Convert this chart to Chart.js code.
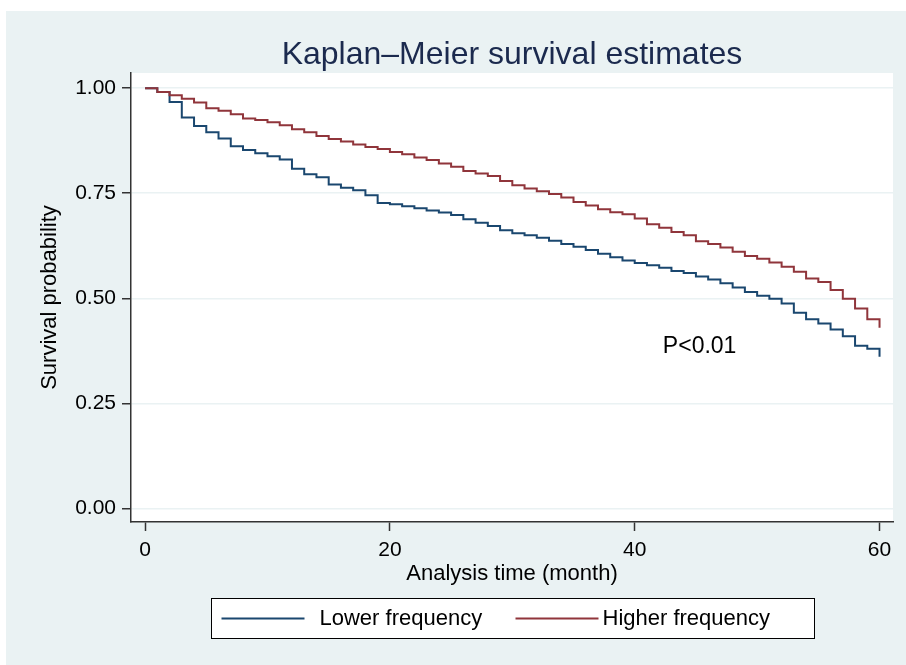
<!DOCTYPE html>
<html>
<head>
<meta charset="utf-8">
<title>Kaplan-Meier</title>
<script src="https://cdn.jsdelivr.net/npm/chart.js@4.4.1/dist/chart.umd.min.js"></script>
<style>
    html, body { margin: 0; padding: 0; background: #ffffff; }
    #wrap { width: 906px; height: 665px; position: relative; }
</style>
</head>
<body>
<div id="wrap"><canvas id="kmChart"></canvas></div>
<script>
// Tempo (meses) e sobrevida estimada para cada grupo
const months = [
    0, 1, 2, 3, 4, 5, 6, 7, 8, 9, 10, 11, 12, 13, 14, 15, 16, 17, 18, 19, 20,
    21, 22, 23, 24, 25, 26, 27, 28, 29, 30, 31, 32, 33, 34, 35, 36, 37, 38, 39, 40,
    41, 42, 43, 44, 45, 46, 47, 48, 49, 50, 51, 52, 53, 54, 55, 56, 57, 58, 59, 60
];
const lowerFreq = [
    1.000, 0.991, 0.967, 0.930, 0.910, 0.895, 0.880, 0.862, 0.853, 0.845, 0.838,
    0.830, 0.808, 0.795, 0.788, 0.771, 0.763, 0.757, 0.745, 0.727, 0.724,
    0.719, 0.714, 0.709, 0.704, 0.698, 0.688, 0.680, 0.672, 0.662, 0.655,
    0.650, 0.644, 0.637, 0.629, 0.623, 0.615, 0.606, 0.598, 0.590, 0.584,
    0.579, 0.573, 0.565, 0.560, 0.552, 0.545, 0.536, 0.526, 0.515, 0.506,
    0.499, 0.488, 0.466, 0.450, 0.440, 0.426, 0.410, 0.387, 0.380, 0.361
];
const higherFreq = [
    1.000, 0.991, 0.983, 0.975, 0.966, 0.952, 0.946, 0.938, 0.928, 0.924, 0.919,
    0.912, 0.902, 0.895, 0.886, 0.879, 0.873, 0.866, 0.860, 0.855, 0.848,
    0.843, 0.835, 0.829, 0.821, 0.813, 0.803, 0.797, 0.791, 0.779, 0.769,
    0.761, 0.755, 0.748, 0.740, 0.729, 0.721, 0.712, 0.705, 0.700, 0.690,
    0.676, 0.668, 0.658, 0.650, 0.636, 0.629, 0.621, 0.611, 0.601, 0.594,
    0.585, 0.575, 0.563, 0.547, 0.539, 0.520, 0.499, 0.476, 0.450, 0.430
];
const seriesNames = ['Lower frequency', 'Higher frequency'];
const xTicks = [0, 20, 40, 60];
const yTicks = [0, 0.25, 0.5, 0.75, 1];
const chartTitle = 'Kaplan\u2013Meier survival estimates';
const pLabel = 'P<0.01';
const pLabelPos = [42.3, 0.386]; // canto esquerdo do texto, em unidades de dados

const FONT = "Arial, 'Liberation Sans', Helvetica, sans-serif";
const BLUE = '#1a476f';
const RED = '#90353b';
const PANEL = '#eaf2f3';

function toPoints(values) {
    return values.map((v, i) => ({ x: months[i], y: v }));
}

// Fundo estilo Stata: painel azul-claro e area do grafico branca
const backgroundPlugin = {
    id: 'stataBackground',
    beforeDraw(chart) {
        const { ctx, chartArea, width, height } = chart;
        ctx.save();
        ctx.fillStyle = '#ffffff';
        ctx.fillRect(0, 0, width, height);
        ctx.fillStyle = PANEL;
        ctx.fillRect(6, 11, width - 6, height - 11);
        ctx.fillStyle = '#ffffff';
        ctx.fillRect(chartArea.left, chartArea.top, chartArea.right - chartArea.left, chartArea.bottom - chartArea.top);
        ctx.restore();
    }
};

// Titulo centrado na area do grafico, legenda em caixa e anotacao do p-valor
const extrasPlugin = {
    id: 'stataExtras',
    afterDraw(chart) {
        const { ctx, chartArea, scales } = chart;
        const centerX = (chartArea.left + chartArea.right) / 2;
        ctx.save();

        // titulo
        ctx.fillStyle = '#1b2a4e';
        ctx.font = '32px ' + FONT;
        ctx.textAlign = 'center';
        ctx.textBaseline = 'middle';
        ctx.fillText(chartTitle, centerX, 55);

        // p-valor
        ctx.fillStyle = '#000000';
        ctx.font = '23px ' + FONT;
        ctx.textAlign = 'left';
        ctx.fillText(pLabel, scales.x.getPixelForValue(pLabelPos[0]), scales.y.getPixelForValue(pLabelPos[1]));

        // legenda
        const boxW = 603, boxH = 40;
        const boxX = Math.round(centerX - boxW / 2) + 0.5;
        const boxY = 598.5;
        ctx.fillStyle = '#ffffff';
        ctx.fillRect(boxX, boxY, boxW, boxH);
        ctx.strokeStyle = '#000000';
        ctx.lineWidth = 1;
        ctx.strokeRect(boxX, boxY, boxW, boxH);

        const midY = boxY + boxH / 2;
        const items = [
            { color: BLUE, x0: 10, x1: 93, tx: 108, name: seriesNames[0] },
            { color: RED, x0: 304, x1: 387, tx: 391, name: seriesNames[1] }
        ];
        ctx.font = '22px ' + FONT;
        items.forEach(it => {
            ctx.strokeStyle = it.color;
            ctx.lineWidth = 2;
            ctx.beginPath();
            ctx.moveTo(boxX + it.x0, midY);
            ctx.lineTo(boxX + it.x1, midY);
            ctx.stroke();
            ctx.fillStyle = '#000000';
            ctx.fillText(it.name, boxX + it.tx, midY);
        });
        ctx.restore();
    }
};

const ctx = document.getElementById('kmChart').getContext('2d');
new Chart(ctx, {
    type: 'line',
    data: {
        datasets: [
            {
                label: seriesNames[1],
                data: toPoints(higherFreq),
                borderColor: RED,
                borderWidth: 2,
                pointRadius: 0,
                stepped: 'before',
                fill: false
            },
            {
                label: seriesNames[0],
                data: toPoints(lowerFreq),
                borderColor: BLUE,
                borderWidth: 2,
                pointRadius: 0,
                stepped: 'before',
                fill: false
            }
        ]
    },
    options: {
        responsive: true,
        maintainAspectRatio: false,
        animation: false,
        layout: { padding: { left: 0, right: 13, top: 73, bottom: 78 } },
        plugins: {
            legend: { display: false },
            tooltip: { enabled: false },
            title: { display: false }
        },
        scales: {
            x: {
                type: 'linear',
                min: -1.15,
                max: 61.1,
                afterBuildTicks: axis => { axis.ticks = xTicks.map(v => ({ value: v })); },
                afterFit: axis => { axis.height = 65; },
                ticks: {
                    color: '#000000',
                    font: { family: FONT, size: 21 },
                    padding: 7,
                    maxRotation: 0,
                    callback: v => String(v)
                },
                grid: {
                    display: true,
                    drawOnChartArea: false,
                    drawTicks: true,
                    tickLength: 9,
                    tickColor: '#333333',
                    tickWidth: 1.5
                },
                border: { display: true, color: '#333333', width: 1.5 },
                title: {
                    display: true,
                    text: 'Analysis time (month)',
                    color: '#000000',
                    font: { family: FONT, size: 22 },
                    padding: { top: 0, bottom: 0 }
                }
            },
            y: {
                type: 'linear',
                min: -0.032,
                max: 1.036,
                afterBuildTicks: axis => { axis.ticks = yTicks.map(v => ({ value: v })); },
                afterFit: axis => { axis.width = 131; },
                ticks: {
                    color: '#000000',
                    font: { family: FONT, size: 21 },
                    padding: 6,
                    callback: v => Number(v).toFixed(2)
                },
                grid: {
                    display: true,
                    drawOnChartArea: true,
                    color: PANEL,
                    lineWidth: 1.5,
                    drawTicks: true,
                    tickLength: 9,
                    tickColor: '#333333',
                    tickWidth: 1.5
                },
                border: { display: true, color: '#333333', width: 1.5 },
                title: {
                    display: true,
                    text: 'Survival probability',
                    color: '#000000',
                    font: { family: FONT, size: 22 },
                    padding: { top: 37, bottom: 0 }
                }
            }
        }
    },
    plugins: [backgroundPlugin, extrasPlugin]
});
</script>
</body>
</html>
